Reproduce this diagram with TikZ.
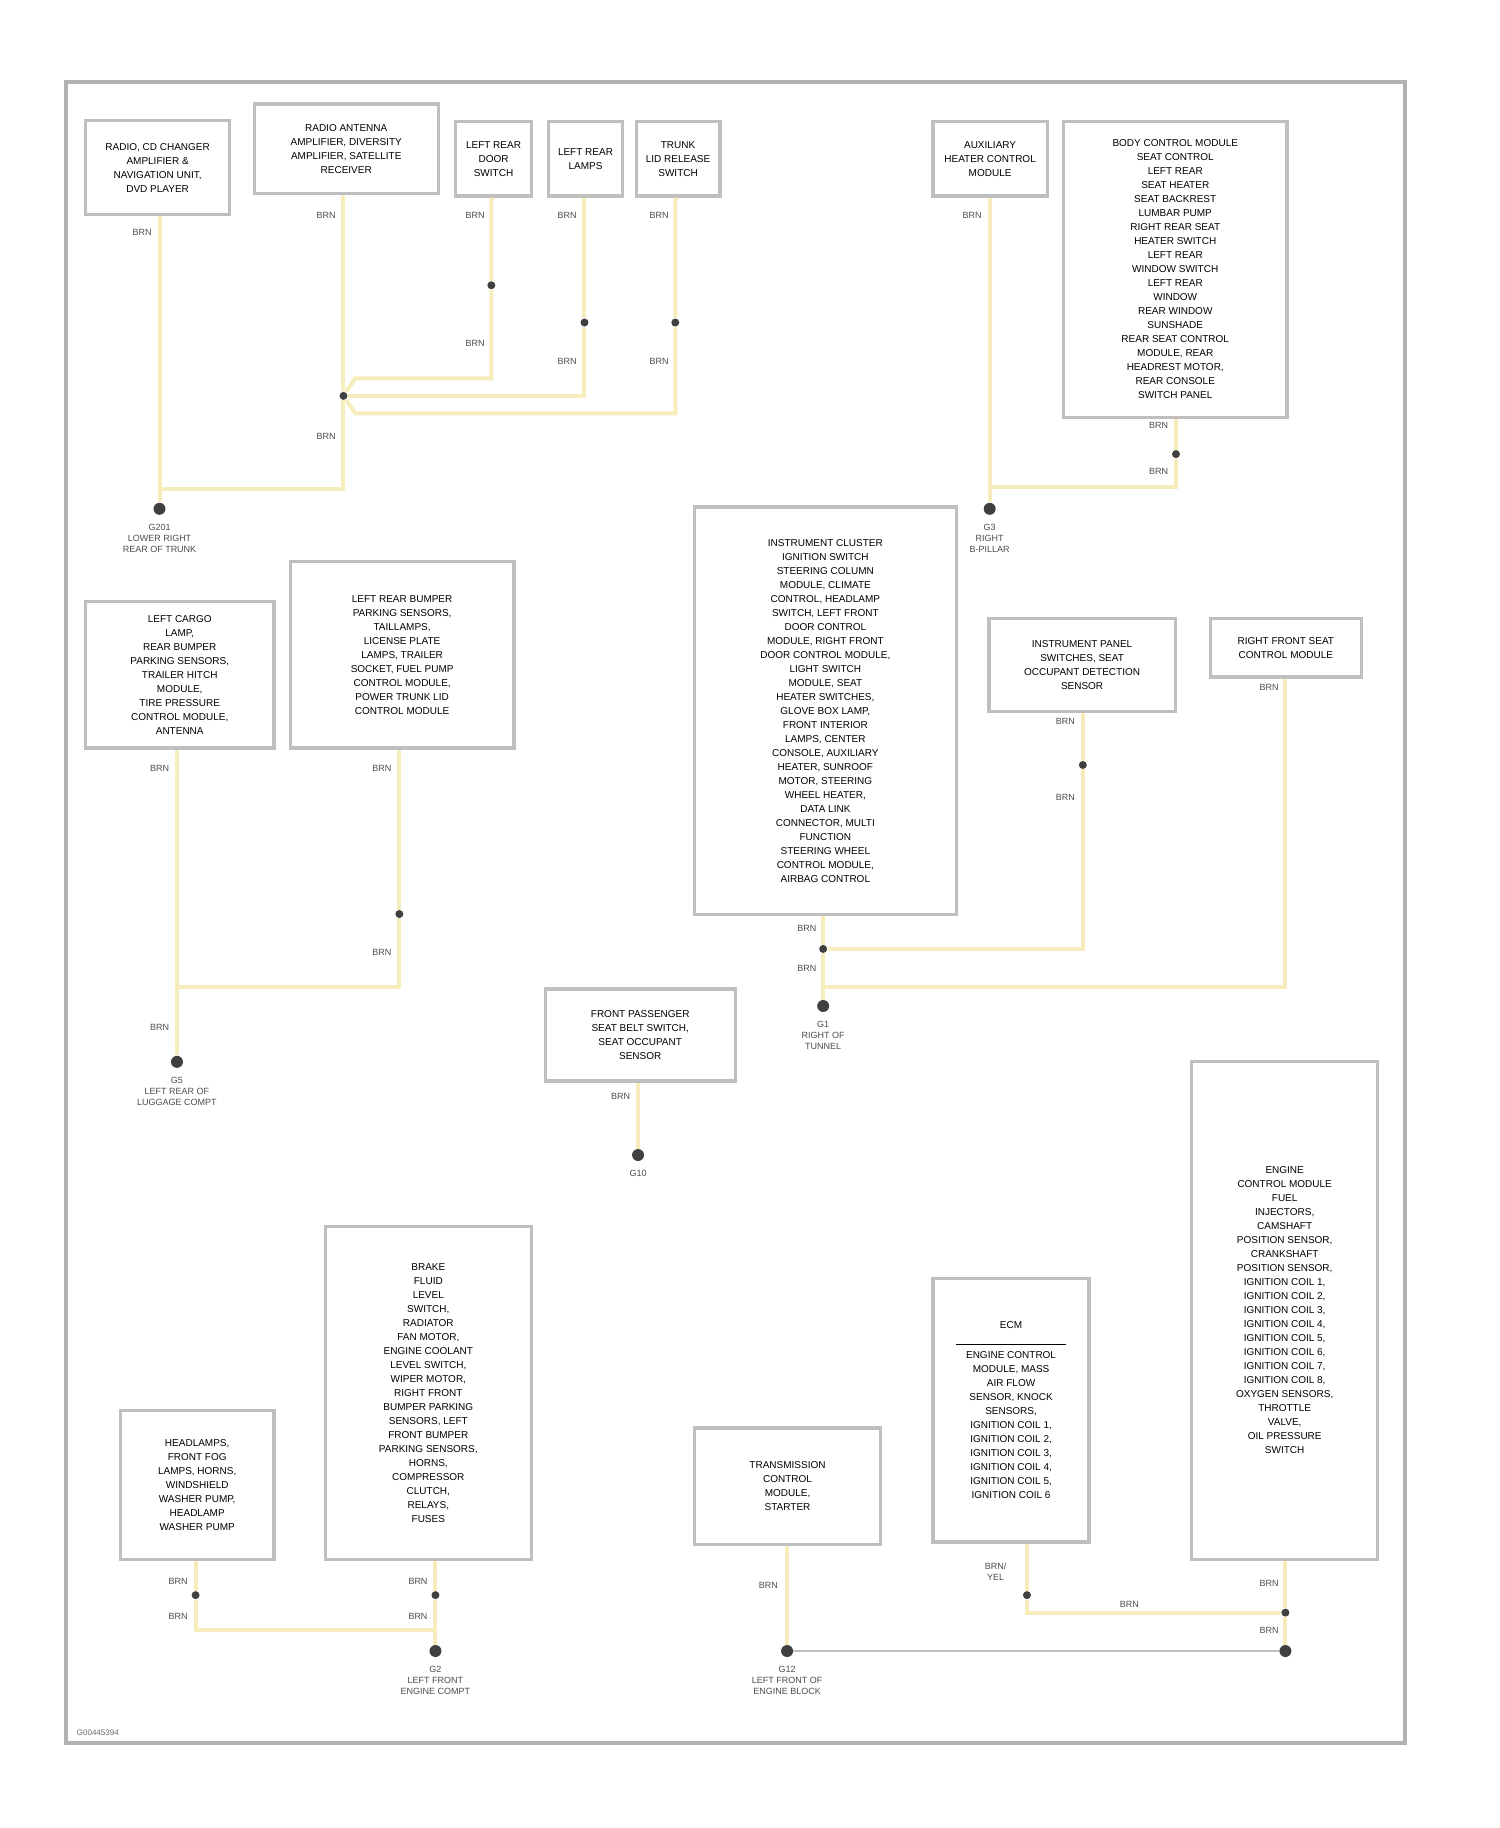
\documentclass[tikz,border=0pt]{standalone}
\usepackage{fontspec}
\setmainfont{Liberation Sans}
\begin{document}
\begin{tikzpicture}[x=0.5825pt,y=-0.5825pt,
 box/.style={draw=black!25,line width=1.6pt,fill=white,inner sep=3pt,align=center,font=\fontsize{5}{7}\selectfont,anchor=north west},
 wire/.style={draw=yellow!55!brown!30,line width=2pt},
 thin/.style={draw=black!25,line width=0.8pt},
 dot/.style={circle,fill=black!75,inner sep=0pt,minimum size=4pt},
 gnd/.style={circle,fill=black!75,inner sep=0pt,minimum size=6pt},
 lbl/.style={font=\fontsize{4.5}{5.5}\selectfont,text=black!70,align=center},
 wl/.style={font=\fontsize{4.5}{5}\selectfont,text=black!70}]
\useasboundingbox (0,0) rectangle (1288,1570);
\draw[draw=black!30,line width=2pt] (57,70) rectangle (1207,1497);
% boxes
\node[box,minimum width=124*0.5825pt,minimum height=81*0.5825pt] (A) at (72,102) {RADIO, CD CHANGER\\AMPLIFIER \&\\NAVIGATION UNIT,\\DVD PLAYER};
\node[box,minimum width=158*0.5825pt,minimum height=77*0.5825pt] (B) at (217,88) {RADIO ANTENNA\\AMPLIFIER, DIVERSITY\\AMPLIFIER, SATELLITE\\RECEIVER};
\node[box,minimum width=65*0.5825pt,minimum height=64*0.5825pt] (C) at (390,103) {LEFT REAR\\DOOR\\SWITCH};
\node[box,minimum width=63*0.5825pt,minimum height=64*0.5825pt] (D) at (470,103) {LEFT REAR\\LAMPS};
\node[box,minimum width=72*0.5825pt,minimum height=64*0.5825pt] (E) at (545,103) {TRUNK\\LID RELEASE\\SWITCH};
\node[box,minimum width=98*0.5825pt,minimum height=64*0.5825pt] (F) at (800,103) {AUXILIARY\\HEATER CONTROL\\MODULE};
\node[box,minimum width=192*0.5825pt,minimum height=254*0.5825pt] (G) at (912,103) {BODY CONTROL MODULE\\SEAT CONTROL\\LEFT REAR\\SEAT HEATER\\SEAT BACKREST\\LUMBAR PUMP\\RIGHT REAR SEAT\\HEATER SWITCH\\LEFT REAR\\WINDOW SWITCH\\LEFT REAR\\WINDOW\\REAR WINDOW\\SUNSHADE\\REAR SEAT CONTROL\\MODULE, REAR\\HEADREST MOTOR,\\REAR CONSOLE\\SWITCH PANEL};
\node[box,minimum width=162*0.5825pt,minimum height=126*0.5825pt] (H) at (72,515) {LEFT CARGO\\LAMP,\\REAR BUMPER\\PARKING SENSORS,\\TRAILER HITCH\\MODULE,\\TIRE PRESSURE\\CONTROL MODULE,\\ANTENNA};
\node[box,minimum width=192*0.5825pt,minimum height=160*0.5825pt] (I) at (248,481) {LEFT REAR BUMPER\\PARKING SENSORS,\\TAILLAMPS,\\LICENSE PLATE\\LAMPS, TRAILER\\SOCKET, FUEL PUMP\\CONTROL MODULE,\\POWER TRUNK LID\\CONTROL MODULE};
\node[box,minimum width=225*0.5825pt,minimum height=350*0.5825pt] (J) at (595,434) {INSTRUMENT CLUSTER\\IGNITION SWITCH\\STEERING COLUMN\\MODULE, CLIMATE\\CONTROL, HEADLAMP\\SWITCH, LEFT FRONT\\DOOR CONTROL\\MODULE, RIGHT FRONT\\DOOR CONTROL MODULE,\\LIGHT SWITCH\\MODULE, SEAT\\HEATER SWITCHES,\\GLOVE BOX LAMP,\\FRONT INTERIOR\\LAMPS, CENTER\\CONSOLE, AUXILIARY\\HEATER, SUNROOF\\MOTOR, STEERING\\WHEEL HEATER,\\DATA LINK\\CONNECTOR, MULTI\\FUNCTION\\STEERING WHEEL\\CONTROL MODULE,\\AIRBAG CONTROL};
\node[box,minimum width=160*0.5825pt,minimum height=80*0.5825pt] (K) at (848,530) {INSTRUMENT PANEL\\SWITCHES, SEAT\\OCCUPANT DETECTION\\SENSOR};
\node[box,minimum width=130*0.5825pt,minimum height=50*0.5825pt] (L) at (1038,530) {RIGHT FRONT SEAT\\CONTROL MODULE};
\node[box,minimum width=163*0.5825pt,minimum height=79*0.5825pt] (M) at (467,848) {FRONT PASSENGER\\SEAT BELT SWITCH,\\SEAT OCCUPANT\\SENSOR};
\node[box,minimum width=132*0.5825pt,minimum height=128*0.5825pt] (N) at (102,1210) {HEADLAMPS,\\FRONT FOG\\LAMPS, HORNS,\\WINDSHIELD\\WASHER PUMP,\\HEADLAMP\\WASHER PUMP};
\node[box,minimum width=177*0.5825pt,minimum height=286*0.5825pt] (O) at (278,1052) {BRAKE\\FLUID\\LEVEL\\SWITCH,\\RADIATOR\\FAN MOTOR,\\ENGINE COOLANT\\LEVEL SWITCH,\\WIPER MOTOR,\\RIGHT FRONT\\BUMPER PARKING\\SENSORS, LEFT\\FRONT BUMPER\\PARKING SENSORS,\\HORNS,\\COMPRESSOR\\CLUTCH,\\RELAYS,\\FUSES};
\node[box,minimum width=160*0.5825pt,minimum height=100*0.5825pt] (P) at (595,1225) {TRANSMISSION\\CONTROL\\MODULE,\\STARTER};
\node[box,minimum width=134*0.5825pt,minimum height=226*0.5825pt] (Q) at (800,1097) {ECM\\[1pt]\rule{55pt}{0.4pt}\\ENGINE CONTROL\\MODULE, MASS\\AIR FLOW\\SENSOR, KNOCK\\SENSORS,\\IGNITION COIL 1,\\IGNITION COIL 2,\\IGNITION COIL 3,\\IGNITION COIL 4,\\IGNITION COIL 5,\\IGNITION COIL 6};
\node[box,minimum width=160*0.5825pt,minimum height=428*0.5825pt] (R) at (1022,910) {ENGINE\\CONTROL MODULE\\FUEL\\INJECTORS,\\CAMSHAFT\\POSITION SENSOR,\\CRANKSHAFT\\POSITION SENSOR,\\IGNITION COIL 1,\\IGNITION COIL 2,\\IGNITION COIL 3,\\IGNITION COIL 4,\\IGNITION COIL 5,\\IGNITION COIL 6,\\IGNITION COIL 7,\\IGNITION COIL 8,\\OXYGEN SENSORS,\\THROTTLE\\VALVE,\\OIL PRESSURE\\SWITCH};
% ground points / splices
\node[gnd] (gA) at (137,437) {}; \node[lbl,below=1pt] at (gA.south) {G201\\LOWER RIGHT\\REAR OF TRUNK};
\node[gnd] (gF) at (850,437) {}; \node[lbl,below=1pt] at (gF.south) {G3\\RIGHT\\B-PILLAR};
\node[gnd] (gH) at (152,912) {}; \node[lbl,below=1pt] at (gH.south) {G5\\LEFT REAR OF\\LUGGAGE COMPT};
\node[gnd] (gJ) at (707,864) {}; \node[lbl,below=1pt] at (gJ.south) {G1\\RIGHT OF\\TUNNEL};
\node[gnd] (gM) at (548,992) {}; \node[lbl,below=1pt] at (gM.south) {G10};
\node[gnd] (gO) at (374,1418) {}; \node[lbl,below=1pt] at (gO.south) {G2\\LEFT FRONT\\ENGINE COMPT};
\node[gnd] (gP) at (676,1418) {}; \node[lbl,below=1pt] at (gP.south) {G12\\LEFT FRONT OF\\ENGINE BLOCK};
\node[gnd] (gR) at (1104,1418) {};
\foreach \n/\x/\y in {sB/295/340,sC/422/245,sD/502/277,sE/580/277,sG/1010/390,sI/343/785,sJ/707/815,sK/930/657,sN/168/1370,sO/374/1370,sQ/882/1370,sR/1104/1385}
  \node[dot] (\n) at (\x,\y) {};
% wires
\draw[wire] (A.south -| gA) -- (gA);
\draw[wire] (B.south -| sB) -- (sB) -- (295,420) -- (137,420);
\draw[wire] (C.south -| sC) -- (sC) -- (422,325) -- (305,325) -- (sB);
\draw[wire] (D.south -| sD) -- (sD) -- (502,340) -- (sB);
\draw[wire] (E.south -| sE) -- (sE) -- (580,355) -- (305,355) -- (sB);
\draw[wire] (F.south -| gF) -- (gF);
\draw[wire] (G.south -| sG) -- (sG) -- (1010,418) -- (850,418);
\draw[wire] (H.south -| gH) -- (gH);
\draw[wire] (I.south -| sI) -- (sI) -- (343,848) -- (152,848);
\draw[wire] (J.south -| sJ) -- (sJ) -- (gJ);
\draw[wire] (K.south -| sK) -- (sK) -- (930,815) -- (sJ);
\draw[wire] (L.south -| sR) -- (1104,848) -- (707,848);
\draw[wire] (M.south -| gM) -- (gM);
\draw[wire] (N.south -| sN) -- (sN) -- (168,1400) -- (374,1400);
\draw[wire] (O.south -| sO) -- (sO) -- (gO);
\draw[wire] (P.south -| gP) -- (gP);
\draw[thin] (gP) -- (gR);
\draw[wire] (Q.south -| sQ) -- (sQ) -- (882,1385) -- (sR);
\draw[wire] (R.south -| sR) -- (sR) -- (gR);
% wire labels
\foreach \x/\y in {122/200,280/185,408/185,487/185,566/185,835/185,280/375,408/295,487/310,566/310,995/365,995/405,137/660,328/660,137/882,328/818,693/797,693/832,915/620,915/685,1090/590,533/942,153/1358,153/1388,359/1358,359/1388,660/1362,1090/1360,1090/1400,970/1378}
  \node[wl] at (\x,\y) {BRN};
\node[lbl,align=center] at (855,1350) {BRN/\\YEL};
\node[font=\fontsize{4}{5}\selectfont,text=black!60,anchor=west] at (60,1488) {G00445394};
\end{tikzpicture}
\end{document}
